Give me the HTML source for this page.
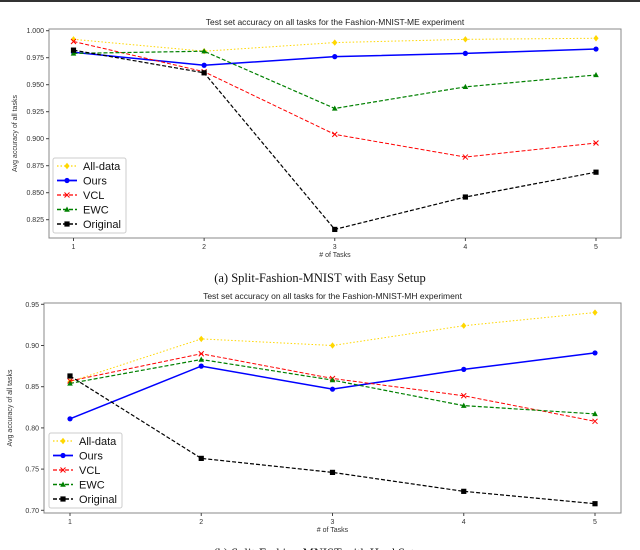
<!DOCTYPE html>
<html><head><meta charset="utf-8"><style>
body{margin:0;background:#fff;width:640px;height:550px;overflow:hidden;font-family:"Liberation Sans",sans-serif}
svg{display:block}
</style></head><body>
<svg id="s" width="640" height="550" xmlns="http://www.w3.org/2000/svg">
<rect x="0" y="0" width="640" height="2" fill="#333"/>
</svg>
<script>
const tasks=[1,2,3,4,5];
const seriesNames=["All-data","Ours","VCL","EWC","Original"];
const topAll=[0.992,0.981,0.989,0.992,0.993];
const topOurs=[0.980,0.968,0.976,0.979,0.983];
const topVCL=[0.990,0.962,0.904,0.883,0.896];
const topEWC=[0.979,0.981,0.928,0.948,0.959];
const topOrig=[0.982,0.961,0.816,0.846,0.869];
const topTicks=[1.000,0.975,0.950,0.925,0.900,0.875,0.850,0.825];
const botAll=[0.856,0.908,0.900,0.924,0.940];
const botOurs=[0.811,0.875,0.847,0.871,0.891];
const botVCL=[0.857,0.890,0.860,0.839,0.808];
const botEWC=[0.854,0.883,0.858,0.827,0.817];
const botOrig=[0.863,0.763,0.746,0.723,0.708];
const botTicks=[0.95,0.90,0.85,0.80,0.75,0.70];

const NS="http://www.w3.org/2000/svg";
const svg=document.getElementById('s');
function mk(tag,attrs,parent){const e=document.createElementNS(NS,tag);for(const k in attrs)e.setAttribute(k,attrs[k]);(parent||svg).appendChild(e);return e;}
const styles=[
 {c:"#ffd700",dash:"1.5,2",w:1,m:"diamond"},
 {c:"#0000ff",dash:"",w:1.5,m:"circle"},
 {c:"#ff0000",dash:"4,2",w:1,m:"x"},
 {c:"#008000",dash:"4,2",w:1.2,m:"tri"},
 {c:"#000000",dash:"4,2",w:1.2,m:"square"}];
function marker(g,m,x,y,c){
 if(m==="circle")mk('circle',{cx:x,cy:y,r:2.6,fill:c},g);
 else if(m==="diamond")mk('polygon',{points:`${x},${y-3.2} ${x+2.6},${y} ${x},${y+3.2} ${x-2.6},${y}`,fill:c},g);
 else if(m==="square")mk('rect',{x:x-2.6,y:y-2.6,width:5.2,height:5.2,fill:c},g);
 else if(m==="tri")mk('polygon',{points:`${x},${y-3} ${x+2.8},${y+2.2} ${x-2.8},${y+2.2}`,fill:c},g);
 else {mk('path',{d:`M${x-2.5},${y-2.5}L${x+2.5},${y+2.5}M${x-2.5},${y+2.5}L${x+2.5},${y-2.5}`,stroke:c,'stroke-width':1},g);}
}
function chart(cfg){
 const g=mk('g',{});
 
 
 const X=v=>cfg.x1+(v-1)*(cfg.x5-cfg.x1)/4;
 const Y=v=>cfg.yA+(cfg.vA-v)*(cfg.yB-cfg.yA)/(cfg.vA-cfg.vB);
 const fr=mk('rect',{x:cfg.L,y:cfg.T,width:cfg.R-cfg.L,height:cfg.B-cfg.T,fill:"none",stroke:"#888",'stroke-width':1},g);
 
 const t=mk('text',{x:(cfg.L+cfg.R)/2,y:cfg.titleY,'font-size':8.5,'text-anchor':'middle',fill:'#222'},g);t.textContent=cfg.title;
 
 cfg.ticks.forEach(v=>{const y=Y(v);mk('line',{x1:cfg.L-3,x2:cfg.L,y1:y,y2:y,stroke:'#444'},g);
  const tx=mk('text',{x:cfg.L-5,y:y+2.5,'font-size':7,'text-anchor':'end',fill:'#333'},g);tx.textContent=cfg.fmt(v);
  });
 tasks.forEach(v=>{const x=X(v);mk('line',{x1:x,x2:x,y1:cfg.B,y2:cfg.B+3,stroke:'#444'},g);
  const tx=mk('text',{x:x,y:cfg.B+11,'font-size':7,'text-anchor':'middle',fill:'#333'},g);tx.textContent=v;
  });
 const xl=mk('text',{x:(cfg.L+cfg.R)/2,y:cfg.B+19,'font-size':7,'text-anchor':'middle',fill:'#333'},g);xl.textContent="# of Tasks";
 
 const yl=mk('text',{x:0,y:0,'font-size':7,'text-anchor':'middle',fill:'#333',transform:`translate(${cfg.L-32},${(cfg.T+cfg.B)/2}) rotate(-90)`},g);yl.textContent="Avg accuracy of all tasks";
 
 cfg.data.forEach((d,i)=>{const s=styles[i];const sg=mk('g',{},g);
  
  mk('polyline',{points:d.map((v,j)=>X(tasks[j])+','+Y(v)).join(' '),fill:'none',stroke:s.c,'stroke-width':s.w,'stroke-dasharray':s.dash},sg);
  d.forEach((v,j)=>marker(sg,s.m,X(tasks[j]),Y(v),s.c));});
 const lg=mk('g',{},g);
 mk('rect',{x:cfg.lgX,y:cfg.lgY,width:73,height:75,fill:'#fff',stroke:'#ccc',rx:2,'fill-opacity':0.85},lg);
 seriesNames.forEach((n,i)=>{const s=styles[i];const y=cfg.lgY+8+i*14.5;
  const e=mk('g',{},lg);
  mk('line',{x1:cfg.lgX+4,x2:cfg.lgX+24,y1:y,y2:y,stroke:s.c,'stroke-width':s.w+0.3,'stroke-dasharray':s.dash},e);
  marker(e,s.m,cfg.lgX+14,y,s.c);
  const tx=mk('text',{x:cfg.lgX+30,y:y+4,'font-size':11,fill:'#111'},e);tx.textContent=n;});
 const cap=mk('text',{x:320,y:cfg.capY,'font-size':12.5,'font-family':'Liberation Serif, serif','text-anchor':'middle',fill:'#111'},g);cap.textContent=cfg.cap;
 
}
chart({name:'chart-easy-setup',L:49,R:621,T:29,B:238,x1:73.5,x5:596,yA:30.7,vA:1.0,yB:219.7,vB:0.825,
 ticks:topTicks,fmt:v=>v.toFixed(3),title:"Test set accuracy on all tasks for the Fashion-MNIST-ME experiment",titleY:25,
 data:[topAll,topOurs,topVCL,topEWC,topOrig],lgX:53,lgY:158,cap:"(a) Split-Fashion-MNIST with Easy Setup",capY:282});
chart({name:'chart-hard-setup',L:44,R:621,T:303,B:513,x1:70,x5:595,yA:304.3,vA:0.95,yB:510.3,vB:0.70,
 ticks:botTicks,fmt:v=>v.toFixed(2),title:"Test set accuracy on all tasks for the Fashion-MNIST-MH experiment",titleY:299,
 data:[botAll,botOurs,botVCL,botEWC,botOrig],lgX:49,lgY:433,cap:"(b) Split-Fashion-MNIST with Hard Setup",capY:557});
</script>
</body></html>
